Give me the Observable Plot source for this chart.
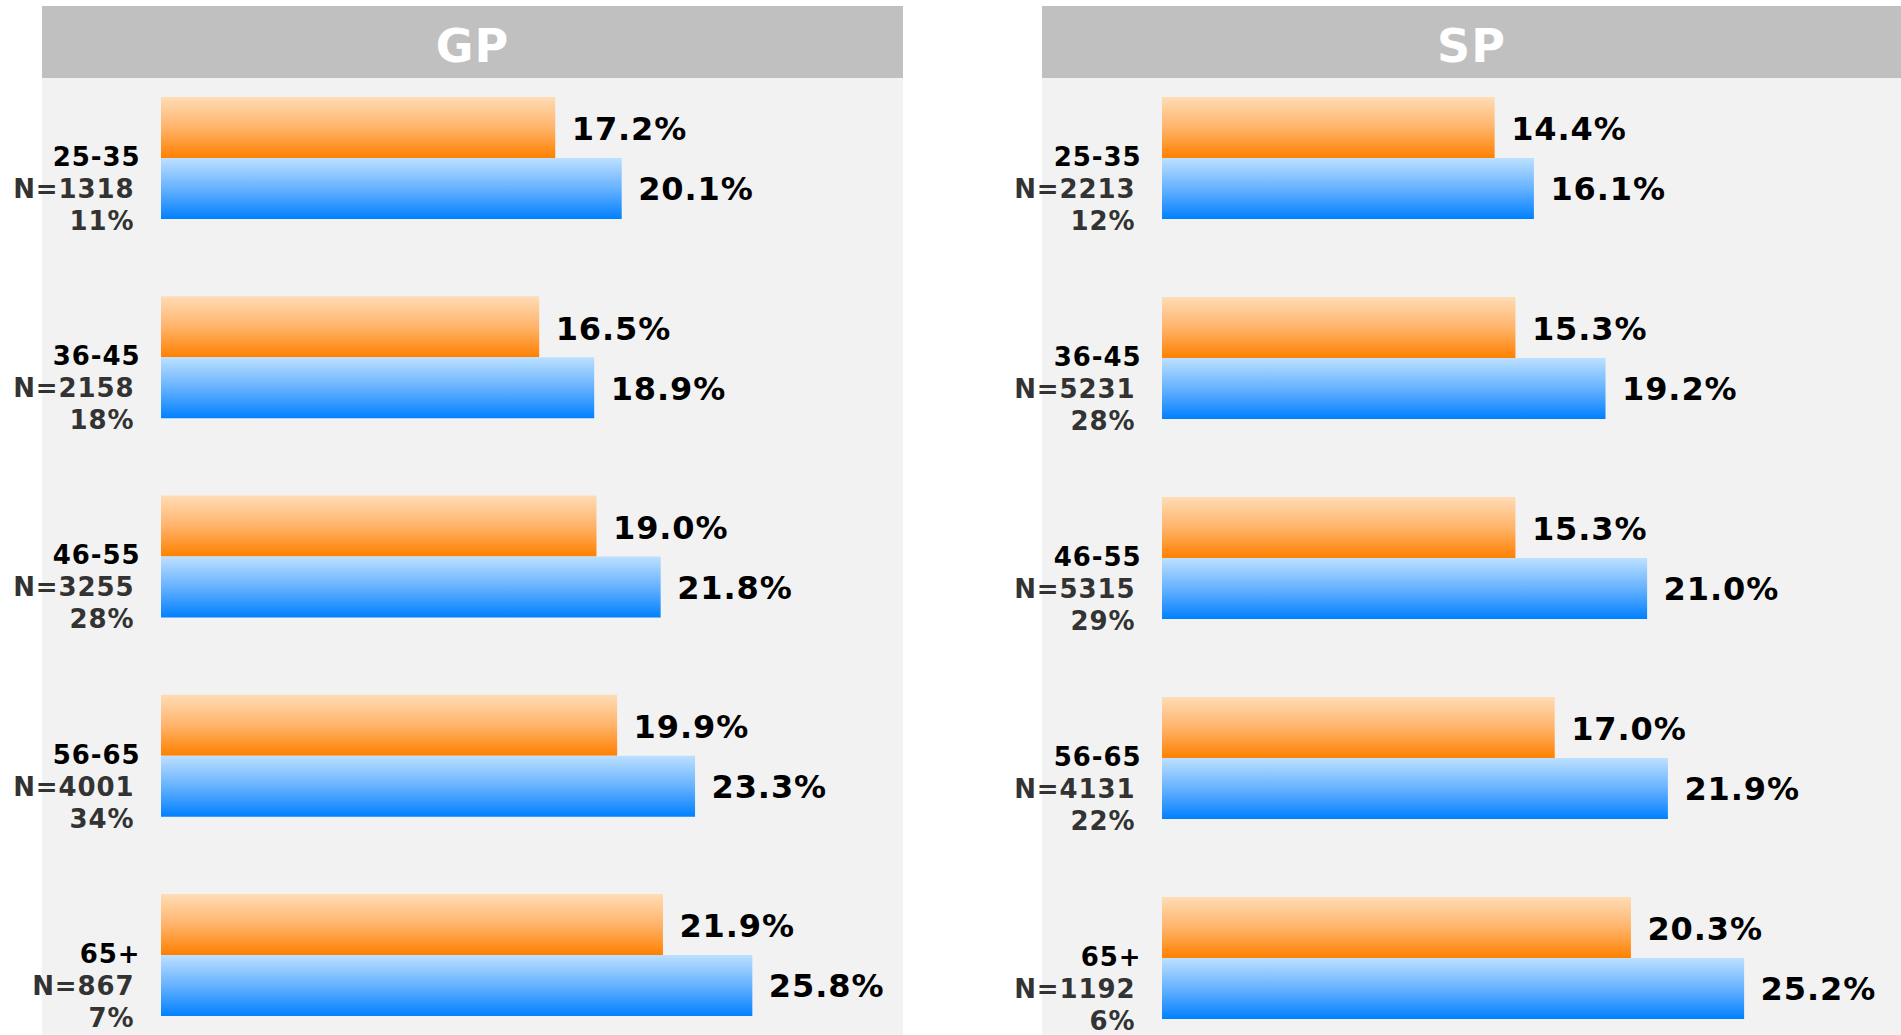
<!DOCTYPE html>
<html>
<head>
<meta charset="utf-8">
<script src="https://cdn.jsdelivr.net/npm/d3@7"></script>
<script src="https://cdn.jsdelivr.net/npm/@observablehq/plot@0.6"></script>
<style>
  html, body { margin: 0; padding: 0; background: #ffffff; width: 1901px; height: 1035px; overflow: hidden; }
  .panel { position: absolute; top: 6px; }
  .header { height: 72px; line-height: 81px; overflow: hidden; background: #c0c0c0; color: #ffffff;
            font-family: "DejaVu Sans", Verdana, sans-serif; font-weight: bold; font-size: 46px; text-align: center; letter-spacing: 1px; }
  .panel svg { display: block; }
  .panel svg text { letter-spacing: 0.9px; }
</style>
</head>
<body>
<div id="gp" class="panel" style="left:42px;width:861px;"><div class="header">GP</div></div>
<div id="sp" class="panel" style="left:1042px;width:859px;"><div class="header">SP</div></div>
<script>
// ---- data ----
const ages = ["25-35", "36-45", "46-55", "56-65", "65+"];
const gpN = [1318, 2158, 3255, 4001, 867];
const gpShare = [11, 18, 28, 34, 7];
const gpOrange = [17.2, 16.5, 19.0, 19.9, 21.9];
const gpBlue = [20.1, 18.9, 21.8, 23.3, 25.8];
const spN = [2213, 5231, 5315, 4131, 1192];
const spShare = [12, 28, 29, 22, 6];
const spOrange = [14.4, 15.3, 15.3, 17.0, 20.3];
const spBlue = [16.1, 19.2, 21.0, 21.9, 25.2];

const FONT = '"DejaVu Sans", Verdana, sans-serif';

function panel(id, N, share, orange, blue, xRange, yRange) {
  const rows = ages.map((a, i) => ({age: a, n: N[i], share: share[i], orange: orange[i], blue: blue[i]}));
  const bw = 61;
  const step = (yRange[1] - yRange[0] - bw) / (ages.length - 1);
  const half = bw / 2;
  const gid = id + "-";
  const defs = () => {
    const d = d3.create("svg:defs");
    const go = d.append("linearGradient").attr("id", gid + "orange").attr("x1", 0).attr("y1", 0).attr("x2", 0).attr("y2", 1);
    go.append("stop").attr("offset", "0%").attr("stop-color", "#ffdcb6");
    go.append("stop").attr("offset", "50%").attr("stop-color", "#ffb46a");
    go.append("stop").attr("offset", "100%").attr("stop-color", "#ff8000");
    const gb = d.append("linearGradient").attr("id", gid + "blue").attr("x1", 0).attr("y1", 0).attr("x2", 0).attr("y2", 1);
    gb.append("stop").attr("offset", "0%").attr("stop-color", "#bde0ff");
    gb.append("stop").attr("offset", "50%").attr("stop-color", "#66b2ff");
    gb.append("stop").attr("offset", "100%").attr("stop-color", "#0080ff");
    return d.node();
  };
  const chart = Plot.plot({
    width: id === "gp" ? 861 : 859,
    height: 957,
    margin: 0,
    style: {background: "#f2f2f2", fontFamily: FONT, overflow: "visible"},
    x: {domain: [0, 30], range: xRange, axis: null},
    y: {type: "band", domain: ages, range: yRange, paddingInner: 1 - bw / step, paddingOuter: 0, align: 0.5, round: false, axis: null},
    marks: [
      defs,
      Plot.barX(rows, {x: "orange", y: "age", dy: -half, fill: `url(#${gid}orange)`}),
      Plot.barX(rows, {x: "blue", y: "age", dy: half, fill: `url(#${gid}blue)`}),
      Plot.text(rows, {x: "orange", y: "age", dy: -half + 2, dx: 16, text: d => d.orange.toFixed(1) + "%",
        textAnchor: "start", fontSize: 32, fontWeight: "bold", fill: "#000"}),
      Plot.text(rows, {x: "blue", y: "age", dy: half + 1, dx: 16, text: d => d.blue.toFixed(1) + "%",
        textAnchor: "start", fontSize: 32, fontWeight: "bold", fill: "#000"}),
      Plot.text(rows, {x: () => 0, y: "age", dx: -21, dy: -1, text: "age",
        textAnchor: "end", fontSize: 26, fontWeight: "bold", fill: "#000"}),
      Plot.text(rows, {x: () => 0, y: "age", dx: -27, dy: 31, text: d => "N=" + d.n,
        textAnchor: "end", fontSize: 26, fontWeight: "bold", fill: "#333"}),
      Plot.text(rows, {x: () => 0, y: "age", dx: -27, dy: 63, text: d => d.share + "%",
        textAnchor: "end", fontSize: 26, fontWeight: "bold", fill: "#333"})
    ]
  });
  document.getElementById(id).appendChild(chart);
}

panel("gp", gpN, gpShare, gpOrange, gpBlue, [119, 119 + 22.92 * 30], [49.5, 907.5]);
panel("sp", spN, spShare, spOrange, spBlue, [120, 120 + 23.1 * 30], [49.5, 910.5]);
</script>
</body>
</html>
